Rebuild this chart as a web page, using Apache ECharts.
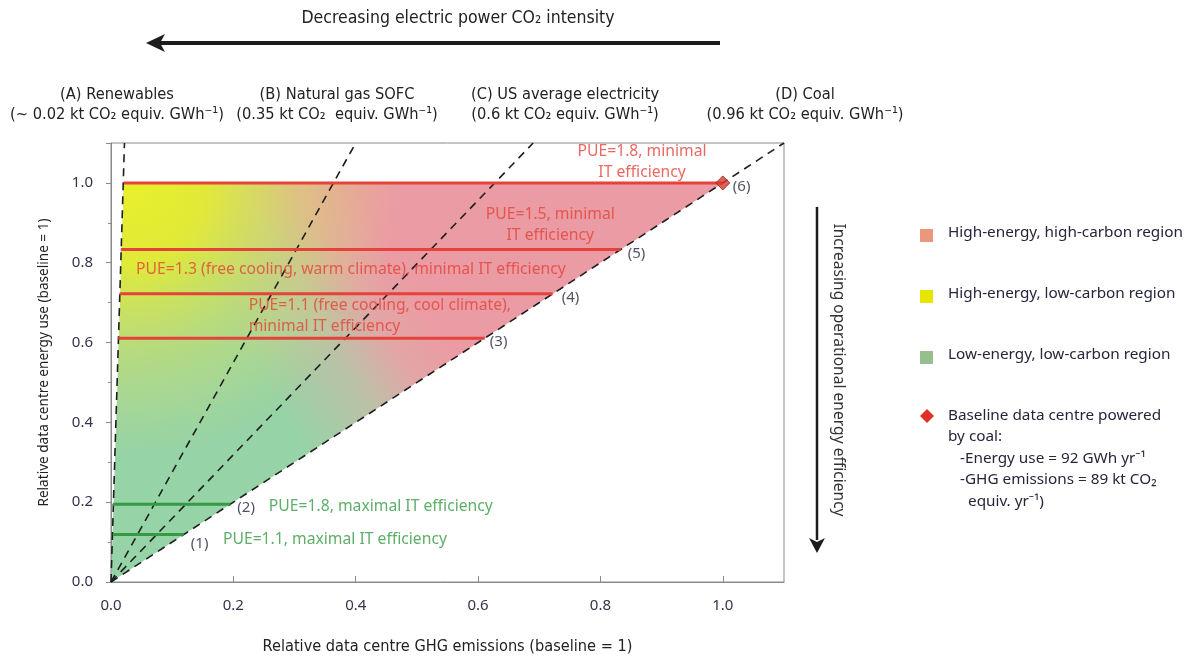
<!DOCTYPE html>
<html lang="en">
<head>
<meta charset="utf-8" />
<title>Data centre energy use and GHG emissions</title>
<script src="https://cdn.jsdelivr.net/npm/echarts@6/dist/echarts.min.js"></script>
<style>
    html, body { margin: 0; padding: 0; background: #fff; }
    #main { width: 1192px; height: 662px; }
</style>
</head>
<body>
<div id="main"></div>
<script>
// electricity sources: dashed lines from the origin to the top of the frame
var sourceNames = ['(A) Renewables', '(B) Natural gas SOFC', '(C) US average electricity', '(D) Coal'];
var sourceIntensity = ['(~ 0.02 kt CO\u2082 equiv. GWh\u207B\u00B9)', '(0.35 kt CO\u2082  equiv. GWh\u207B\u00B9)',
    '(0.6 kt CO\u2082 equiv. GWh\u207B\u00B9)', '(0.96 kt CO\u2082 equiv. GWh\u207B\u00B9)'];
var sourceTopX = [0.022, 0.40, 0.69, 1.10];
var sourceTopY = [1.10, 1.10, 1.10, 1.10];

// minimal IT efficiency scenarios (red)
var redY = [1.0, 0.833, 0.722, 0.611];
var redStartX = [0.021, 0.016, 0.014, 0.012];
var redEndX = [1.0, 0.833, 0.722, 0.611];
var redIds = ['(6)', '(5)', '(4)', '(3)'];

// maximal IT efficiency scenarios (green)
var greenY = [0.195, 0.119];
var greenStartX = [0.003, 0.003];
var greenEndX = [0.195, 0.119];
var greenIds = ['(2)', '(1)'];

// shaded region between renewables and coal lines
var regionX = [0, 0.021, 1.0];
var regionY = [0, 1.0, 1.0];

// baseline data centre
var baseline = [1.0, 1.0];

var legendNames = ['High-energy, high-carbon region', 'High-energy, low-carbon region', 'Low-energy, low-carbon region'];
var legendColors = ['#eb977c', '#e6e600', '#95bf8d'];

var condensed = "'Liberation Sans Narrow', 'DejaVu Sans Condensed', sans-serif";
var regular = "'Noto Sans', 'Open Sans', sans-serif";
var red = '#e4433b';
var green = '#359a44';
var ink = '#26263a';

var myChart = echarts.init(document.getElementById('main'));

function renderRegion(params, api) {
    var pts = [];
    for (var i = 0; i < regionX.length; i++) {
        pts.push(api.coord([regionX[i], regionY[i]]));
    }
    // green -> pink blend running up and to the right
    var p0 = api.coord([0.194, 0.632]);
    var p1 = api.coord([0.446, 0.867]);
    var c = api.coord([0.021, 1.0]);
    return {
        type: 'group',
        children: [{
            type: 'polygon',
            shape: { points: pts },
            style: {
                fill: {
                    type: 'linear', global: true,
                    x: p0[0], y: p0[1], x2: p1[0], y2: p1[1],
                    colorStops: [
                        { offset: 0, color: '#96d3a6' },
                        { offset: 0.45, color: '#bcc1a6' },
                        { offset: 0.72, color: '#e2a6a6' },
                        { offset: 1, color: '#eb9ba3' }
                    ]
                }
            }
        }, {
            type: 'polygon',
            shape: { points: pts },
            style: {
                fill: {
                    type: 'radial', global: true,
                    x: c[0], y: c[1], r: 275,
                    colorStops: [
                        { offset: 0, color: 'rgba(234,240,40,1)' },
                        { offset: 0.3, color: 'rgba(232,236,45,0.9)' },
                        { offset: 0.62, color: 'rgba(220,228,80,0.45)' },
                        { offset: 1, color: 'rgba(210,225,110,0)' }
                    ]
                }
            }
        }]
    };
}

var series = [{
    type: 'custom',
    name: 'region',
    renderItem: renderRegion,
    data: [[0, 0]],
    silent: true,
    z: 1
}];

for (var i = 0; i < sourceTopX.length; i++) {
    series.push({
        type: 'line',
        data: [[0, 0], [sourceTopX[i], sourceTopY[i]]],
        symbol: 'none',
        silent: true,
        z: 3,
        lineStyle: { color: '#1e1e1e', width: 1.6, type: [8, 6] }
    });
}

for (var i = 0; i < redY.length; i++) {
    series.push({
        type: 'line',
        data: [[redStartX[i], redY[i]], [redEndX[i], redY[i]]],
        symbol: 'none',
        silent: true,
        z: 4,
        lineStyle: { color: red, width: 3 }
    });
}
for (var i = 0; i < greenY.length; i++) {
    series.push({
        type: 'line',
        data: [[greenStartX[i], greenY[i]], [greenEndX[i], greenY[i]]],
        symbol: 'none',
        silent: true,
        z: 4,
        lineStyle: { color: green, width: 3 }
    });
}

series.push({
    type: 'scatter',
    data: [baseline],
    symbol: 'diamond',
    symbolSize: [14, 14],
    z: 6,
    itemStyle: { color: '#d9382c', borderColor: '#8c2018', borderWidth: 1 }
});

// scenario numbers at the right end of each line
var idOffsets = [[10, 4], [7, 4], [9, 4], [5, 4], [7, 4], [7, 9]];
var idData = [];
for (var i = 0; i < redIds.length; i++) {
    idData.push({ value: [redEndX[i], redY[i]], name: redIds[i], label: { offset: idOffsets[i] } });
}
for (var i = 0; i < greenIds.length; i++) {
    idData.push({ value: [greenEndX[i], greenY[i]], name: greenIds[i], label: { offset: idOffsets[4 + i] } });
}
series.push({
    type: 'scatter',
    data: idData,
    symbolSize: 0,
    silent: true,
    z: 7,
    label: {
        show: true, position: 'inside', align: 'left', verticalAlign: 'middle',
        formatter: '{b}', color: ink, fontFamily: regular, fontSize: 15
    }
});

// scenario descriptions
var noteText = ['PUE=1.8, minimal\nIT efficiency', 'PUE=1.5, minimal\nIT efficiency',
    'PUE=1.3 (free cooling, warm climate), minimal IT efficiency',
    'PUE=1.1 (free cooling, cool climate),\nminimal IT efficiency',
    'PUE=1.8, maximal IT efficiency', 'PUE=1.1, maximal IT efficiency'];
var noteX = [0.868, 0.718, 0.041, 0.225, 0.258, 0.183];
var noteY = [1.053, 0.895, 0.782, 0.667, 0.19, 0.106];
var noteAlign = ['center', 'center', 'left', 'left', 'left', 'left'];
var noteColor = [red, red, red, red, green, green];
var noteData = [];
for (var i = 0; i < noteText.length; i++) {
    noteData.push({
        value: [noteX[i], noteY[i]], name: noteText[i],
        label: { align: noteAlign[i], color: noteColor[i] }
    });
}
series.push({
    type: 'scatter',
    data: noteData,
    symbolSize: 0,
    silent: true,
    z: 8,
    label: {
        show: true, position: 'inside', verticalAlign: 'middle',
        formatter: '{b}', fontFamily: regular, fontSize: 15.7, lineHeight: 21
    }
});

// annotations around the plot
var graphics = [{
    type: 'text', x: 458, y: 18,
    style: { text: 'Decreasing electric power CO\u2082 intensity', fill: '#222', font: '17.5px ' + condensed, align: 'center', verticalAlign: 'middle' }
}, {
    type: 'line', shape: { x1: 720, y1: 43, x2: 160, y2: 43 },
    style: { stroke: '#1c1c1c', lineWidth: 4 }
}, {
    type: 'polygon', shape: { points: [[146, 43], [165, 34], [160, 43], [165, 52]] },
    style: { fill: '#1c1c1c' }
}, {
    type: 'line', shape: { x1: 817, y1: 207, x2: 817, y2: 540 },
    style: { stroke: '#1c1c1c', lineWidth: 2.5 }
}, {
    type: 'polygon', shape: { points: [[817, 553], [809, 538], [817, 542], [825, 538]] },
    style: { fill: '#1c1c1c' }
}, {
    type: 'text', x: 838, y: 370, rotation: -Math.PI / 2,
    style: { text: 'Increasing operational energy efficiency', fill: '#333', font: '15.6px ' + regular, align: 'center', verticalAlign: 'middle' }
}];

var headerX = [117, 337, 565, 805];
for (var i = 0; i < sourceNames.length; i++) {
    graphics.push({
        type: 'text', x: headerX[i], y: 95,
        style: { text: sourceNames[i], fill: '#222', font: '16.3px ' + condensed, align: 'center', verticalAlign: 'middle' }
    });
    graphics.push({
        type: 'text', x: headerX[i], y: 115,
        style: { text: sourceIntensity[i], fill: '#222', font: '16.3px ' + condensed, align: 'center', verticalAlign: 'middle' }
    });
}

var legendY = [233, 294, 355];
for (var i = 0; i < legendNames.length; i++) {
    graphics.push({
        type: 'rect', shape: { x: 920, y: legendY[i] - 4, width: 13, height: 13 },
        style: { fill: legendColors[i] }
    });
    graphics.push({
        type: 'text', x: 948, y: legendY[i],
        style: { text: legendNames[i], fill: ink, font: '15.3px ' + regular, verticalAlign: 'middle' }
    });
}
graphics.push({
    type: 'polygon', shape: { points: [[927, 409], [934, 416], [927, 423], [920, 416]] },
    style: { fill: '#e0302a' }
});
var baseLines = ['Baseline data centre powered', 'by coal:', '-Energy use = 92 GWh yr\u207B\u00B9',
    '-GHG emissions = 89 kt CO\u2082', 'equiv. yr\u207B\u00B9)'];
var baseLineX = [948, 948, 960, 960, 968];
var baseLineY = [416, 437, 459, 480, 502];
for (var i = 0; i < baseLines.length; i++) {
    graphics.push({
        type: 'text', x: baseLineX[i], y: baseLineY[i],
        style: { text: baseLines[i], fill: ink, font: '15.3px ' + regular, verticalAlign: 'middle' }
    });
}

var option = {
    animation: false,
    backgroundColor: '#ffffff',
    grid: {
        left: 111, top: 143, right: 408, bottom: 80,
        show: true, borderColor: '#8a8a8a', borderWidth: 1, backgroundColor: 'transparent'
    },
    xAxis: {
        type: 'value', min: 0, max: 1.1, interval: 0.2,
        name: 'Relative data centre GHG emissions (baseline = 1)',
        nameLocation: 'middle', nameGap: 57,
        nameTextStyle: { color: '#222', fontFamily: condensed, fontSize: 16.2 },
        axisLine: { show: true, lineStyle: { color: '#8a8a8a' } },
        axisTick: { show: true, inside: true, length: 6, lineStyle: { color: '#8a8a8a' } },
        axisLabel: {
            showMaxLabel: false, margin: 16, color: '#34344a', fontFamily: regular, fontSize: 15,
            formatter: function (v) { return v.toFixed(1); }
        },
        splitLine: { show: false }
    },
    yAxis: {
        type: 'value', min: 0, max: 1.1, interval: 0.2,
        name: 'Relative data centre energy use (baseline = 1)',
        nameLocation: 'middle', nameGap: 60,
        nameTextStyle: { color: '#222', fontFamily: regular, fontSize: 13.6 },
        axisLine: { show: true, lineStyle: { color: '#8a8a8a' } },
        axisTick: { show: true, length: 5, lineStyle: { color: '#8a8a8a' } },
        minorTick: { show: true, splitNumber: 2, length: 3, lineStyle: { color: '#8a8a8a' } },
        axisLabel: {
            showMaxLabel: false, margin: 18, color: '#34344a', fontFamily: regular, fontSize: 15,
            formatter: function (v) { return v.toFixed(1); }
        },
        splitLine: { show: false }
    },
    graphic: graphics,
    series: series
};
myChart.setOption(option, true);
</script>
</body>
</html>
